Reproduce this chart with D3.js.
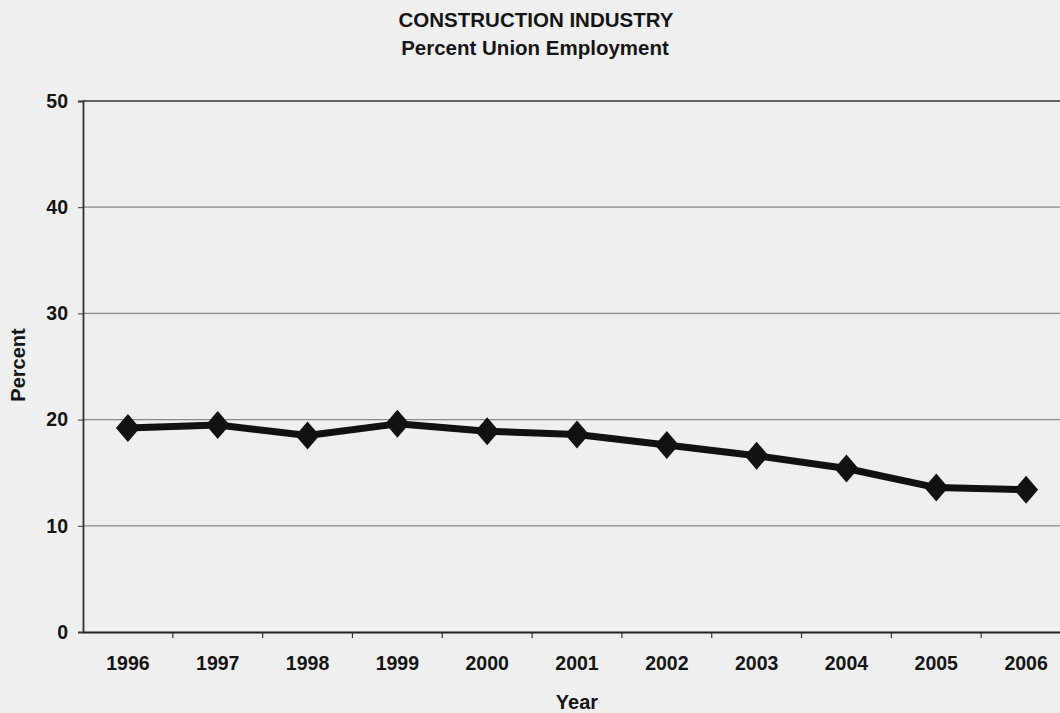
<!DOCTYPE html>
<html><head><meta charset="utf-8">
<script src="https://cdn.jsdelivr.net/npm/d3@7"></script>
<style>
html,body{margin:0;padding:0;background:#efefef;}
text{font-family:"Liberation Sans",Arial,sans-serif;font-weight:bold;fill:#151515;}
</style></head>
<body><svg id="c" width="1060" height="713"></svg>
<script>
const years = ["1996","1997","1998","1999","2000","2001","2002","2003","2004","2005","2006"];
const unionPercent = [19.2,19.5,18.5,19.6,18.9,18.6,17.6,16.6,15.4,13.6,13.4];
const yTicks = [0,10,20,30,40,50];
const titleLines = ["CONSTRUCTION INDUSTRY","Percent Union Employment"];

(function(){
const svg = d3.select("#c");
svg.append("rect").attr("width",1060).attr("height",713).attr("fill","#efefef");

const mLeft = 83, mRight = 1071, mTop = 101, mBottom = 632;
const x = d3.scaleBand().domain(years).range([mLeft, mRight]);
const y = d3.scaleLinear().domain([0,50]).range([mBottom, mTop]);

// gridlines
svg.append("g").selectAll("line").data(yTicks.filter(d=>d>0)).join("line")
  .attr("x1",mLeft).attr("x2",1060)
  .attr("y1",d=>y(d)).attr("y2",d=>y(d))
  .attr("stroke",d=>d===50?"#333":"#8a8a8a").attr("stroke-width",d=>d===50?1.5:1.2);

// y axis
const yAxis = svg.append("g").attr("transform",`translate(${mLeft},0)`)
  .call(d3.axisLeft(y).tickValues(yTicks).tickSize(5).tickPadding(10));
yAxis.select(".domain").attr("stroke","#333").attr("stroke-width",1.8);
yAxis.selectAll(".tick line").attr("stroke","#333");
yAxis.selectAll("text").attr("font-size",19.5).attr("fill","#151515").attr("font-family","Liberation Sans, Arial").attr("font-weight","bold");

// x axis
const xAxis = svg.append("g").attr("transform",`translate(0,${mBottom})`)
  .call(d3.axisBottom(x).tickSize(0).tickPadding(24));
xAxis.select(".domain").attr("stroke","#222").attr("stroke-width",2);
xAxis.selectAll("text").attr("font-size",19.5).attr("fill","#151515").attr("font-family","Liberation Sans, Arial").attr("font-weight","bold");
// ticks between categories
svg.append("g").selectAll("line").data(years.slice(1)).join("line")
  .attr("x1",d=>x(d)).attr("x2",d=>x(d)).attr("y1",mBottom).attr("y2",mBottom+6)
  .attr("stroke","#333").attr("stroke-width",1.2);

// line
const line = d3.line().x((d,i)=>x(years[i])+x.bandwidth()/2).y(d=>y(d));
svg.append("path").datum(unionPercent).attr("d",line)
  .attr("fill","none").attr("stroke","#111").attr("stroke-width",7).attr("stroke-linejoin","round");

// diamond markers
svg.append("g").selectAll("path").data(unionPercent).join("path")
  .attr("transform",(d,i)=>`translate(${x(years[i])+x.bandwidth()/2},${y(d)})`)
  .attr("d","M0,-14L12,0L0,14L-12,0Z").attr("fill","#111");

// titles
svg.append("text").attr("x",536).attr("y",27).attr("text-anchor","middle").attr("font-size",20.5).text(titleLines[0]);
svg.append("text").attr("x",535).attr("y",55).attr("text-anchor","middle").attr("font-size",20.5).text(titleLines[1]);

// axis labels
svg.append("text").attr("transform","translate(25,365) rotate(-90)").attr("text-anchor","middle").attr("font-size",20).text("Percent");
svg.append("text").attr("x",577).attr("y",709).attr("text-anchor","middle").attr("font-size",20).text("Year");
})();
</script></body></html>
